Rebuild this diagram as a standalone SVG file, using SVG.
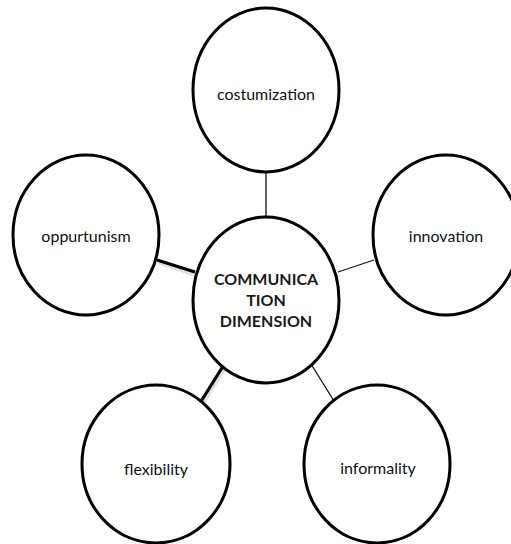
<svg xmlns="http://www.w3.org/2000/svg" width="511" height="544" viewBox="0 0 511 544">
  <style>
    .bubble { fill: #ffffff; stroke: #000000; stroke-width: 3; }
    .label { font-family: Lato, "Open Sans", "Liberation Sans", sans-serif; font-size: 16px; fill: #111111; text-anchor: middle; dominant-baseline: central; }
    .hub { font-family: Lato, "Open Sans", "Liberation Sans", sans-serif; font-size: 16px; font-weight: bold; fill: #1a1a1a; text-anchor: middle; dominant-baseline: central; }
    .thin { stroke: #111111; stroke-width: 1.3; fill: none; }
    .thick { stroke: #000000; stroke-width: 3.2; fill: none; }
    .halo { stroke: #e0e0e0; stroke-width: 5; fill: none; }
  </style>
  <rect width="511" height="544" fill="#ffffff"/>

  <g id="connectors">
    <line class="thin" x1="266" y1="172" x2="266" y2="218"/>
    <line class="thin" x1="338" y1="272" x2="374" y2="260"/>
    <line class="thin" x1="311" y1="364" x2="334" y2="401"/>
    <line class="halo" x1="158" y1="262" x2="194" y2="274"/>
    <line class="thick" x1="157" y1="260" x2="195" y2="272"/>
    <line class="halo" x1="202" y1="404" x2="226" y2="365"/>
    <line class="thick" x1="200" y1="403" x2="225" y2="363"/>
  </g>

  <g id="node-costumization">
    <ellipse class="bubble" cx="266" cy="90" rx="73" ry="82"/>
    <text class="label" x="266" y="93">costumization</text>
  </g>

  <g id="node-oppurtunism">
    <ellipse class="bubble" cx="86" cy="235" rx="73" ry="80"/>
    <text class="label" x="86" y="235">oppurtunism</text>
  </g>

  <g id="node-innovation">
    <ellipse class="bubble" cx="446" cy="235" rx="73" ry="80"/>
    <text class="label" x="446" y="235">innovation</text>
  </g>

  <g id="node-communication-dimension">
    <ellipse class="bubble" cx="266" cy="300" rx="73" ry="83"/>
    <text class="hub" x="266" y="278">COMMUNICA</text>
    <text class="hub" x="266" y="299">TION</text>
    <text class="hub" x="266" y="320">DIMENSION</text>
  </g>

  <g id="node-flexibility">
    <ellipse class="bubble" cx="156" cy="464" rx="74" ry="79"/>
    <text class="label" x="156" y="468">flexibility</text>
  </g>

  <g id="node-informality">
    <ellipse class="bubble" cx="377" cy="464" rx="73" ry="79"/>
    <text class="label" x="378" y="467">informality</text>
  </g>
</svg>
